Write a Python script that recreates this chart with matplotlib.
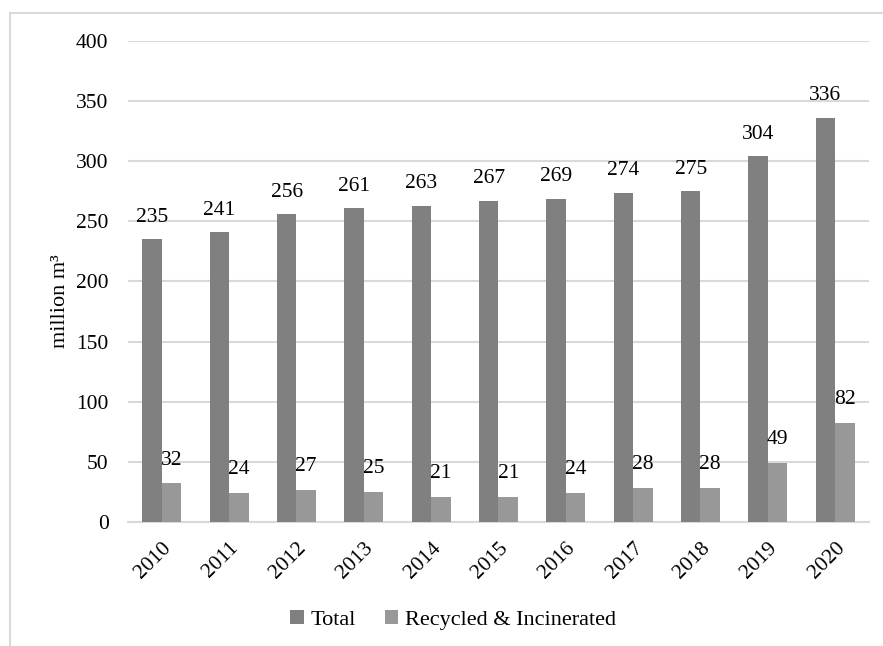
import matplotlib
matplotlib.use("Agg")
import matplotlib.pyplot as plt
import numpy as np
from matplotlib.lines import Line2D

plt.rcParams.update({
    "font.family": ["Liberation Serif", "DejaVu Serif"],
    "font.size": 15.5,
})

years = [str(y) for y in range(2010, 2021)]
total = [235, 241, 256, 261, 263, 267, 269, 274, 275, 304, 336]
recycled = [32, 24, 27, 25, 21, 21, 24, 28, 28, 49, 82]

DARK, LIGHT, GRID = "#808080", "#989898", "#d9d9d9"

fig = plt.figure(figsize=(8.83, 6.46), dpi=100)
ax = fig.add_axes([0.145, 0.192, 0.839, 0.7445])

x = np.arange(len(years))
w = 0.29
b1 = ax.bar(x - w / 2, total, w, color=DARK, label="Total", zorder=3)
b2 = ax.bar(x + w / 2, recycled, w, color=LIGHT, label="Recycled & Incinerated", zorder=3)

for rect, v in zip(b1, total):
    ax.annotate(f"{v}", (rect.get_x() + rect.get_width() / 2, v),
                xytext=(0, 9), textcoords="offset points",
                ha="center", va="bottom")
for rect, v in zip(b2, recycled):
    ax.annotate(f"{v}", (rect.get_x() + rect.get_width() / 2, v),
                xytext=(0, 10), textcoords="offset points",
                ha="center", va="bottom")

ax.set_xlim(-0.5, len(years) - 0.5)
ax.set_ylim(0, 400)
ax.set_yticks(range(0, 401, 50))
ax.yaxis.grid(True, color=GRID, lw=1.5, zorder=0)
ax.set_axisbelow(True)
for s in ["top", "right", "left"]:
    ax.spines[s].set_visible(False)
ax.spines["bottom"].set_color(GRID)
ax.spines["bottom"].set_linewidth(1.5)
ax.tick_params(length=0)
ax.tick_params(axis="y", pad=14)
ax.set_xticks(x)
ax.set_xticklabels(years, rotation=45, ha="right", rotation_mode="anchor")
ax.tick_params(axis="x", pad=12)
ax.set_ylabel("million m³", fontsize=16)
ax.yaxis.set_label_coords(-0.079, 0.46)

fig.legend(loc="center", bbox_to_anchor=(453 / 883, 1 - 620 / 646), ncol=2,
           frameon=False, handlelength=0.6, handleheight=0.6,
           handletextpad=0.3, columnspacing=1.3, fontsize=16)

# light frame around the chart area
fig.add_artist(Line2D([10 / 883, 1], [1 - 13 / 646] * 2, color=GRID, lw=1.5))
fig.add_artist(Line2D([10 / 883] * 2, [0, 1 - 13 / 646], color=GRID, lw=1.5))

fig.savefig("out.png", dpi=100)
